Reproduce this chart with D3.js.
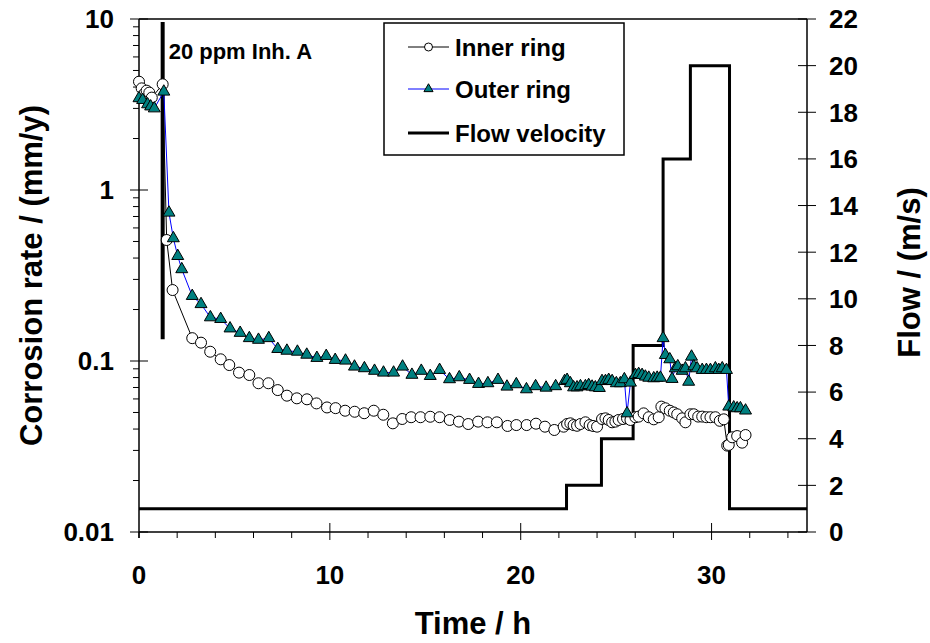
<!DOCTYPE html>
<html>
<head>
<meta charset="utf-8">
<script src="https://cdn.jsdelivr.net/npm/d3@7"></script>
<style>
    body { margin: 0; background: #fff; }
    svg text { font-family: "Liberation Sans", Arial, sans-serif; font-weight: bold; fill: #000; }
</style>
</head>
<body>
<svg id="chart" width="930" height="643"></svg>
<script>
// time (h) and corrosion rate (mm/y)
let innerTime = [0, 0.14, 0.27, 0.40, 0.54, 0.67, 1.24, 1.45, 1.76, 2.79, 3.25, 3.73, 4.28, 4.73, 5.24, 5.78, 6.26, 6.78,
    7.27, 7.75, 8.27, 8.80, 9.30, 9.85, 10.30, 10.80, 11.30, 11.80, 12.30, 12.80, 13.30, 13.79, 14.26, 14.75, 15.26,
    15.75, 16.28, 16.76, 17.25, 17.77, 18.26, 18.75, 19.31, 19.77, 20.31, 20.80, 21.27, 21.76,
    22.25, 22.43, 22.60, 22.77, 22.95, 23.13, 23.39, 23.61, 23.79, 24.00, 24.26, 24.44, 24.61, 24.79, 24.96, 25.13,
    25.36, 25.57, 25.75, 26.01, 26.18, 26.44, 26.71, 26.97, 27.23, 27.37, 27.58, 27.81, 28.02, 28.20, 28.46, 28.63,
    28.89, 29.07, 29.30, 29.51, 29.73, 29.94, 30.20, 30.43, 30.64, 30.82, 30.90, 31.08, 31.34, 31.60, 31.78];
let innerRate = [4.30, 3.93, 3.65, 3.81, 3.71, 3.47, 4.15, 0.510, 0.260, 0.136, 0.128, 0.1133, 0.1023, 0.0947, 0.0855,
    0.0828, 0.0741, 0.0741, 0.0676, 0.0627, 0.0605, 0.0597, 0.0565, 0.0535, 0.0530, 0.0512, 0.0505, 0.0495, 0.0512,
    0.0485, 0.0432, 0.0458, 0.0469, 0.0469, 0.0472, 0.0469, 0.0452, 0.0442, 0.0428, 0.0442, 0.0438, 0.0438, 0.0417,
    0.0422, 0.0422, 0.0430, 0.0413, 0.0395,
    0.0413, 0.0428, 0.0432, 0.0422, 0.0418, 0.0428, 0.0438, 0.0422, 0.0417, 0.0413, 0.0458, 0.0462, 0.0452, 0.0438,
    0.0442, 0.0452, 0.0458, 0.0462, 0.0452, 0.0469, 0.0473, 0.0494, 0.0469, 0.0456, 0.0469, 0.0541, 0.0529, 0.0512,
    0.0500, 0.0488, 0.0462, 0.0438, 0.0488, 0.0488, 0.0473, 0.0473, 0.0469, 0.0469, 0.0469, 0.0447, 0.0456, 0.0320,
    0.0323, 0.0358, 0.0364, 0.0333, 0.0369];

let outerTime = [0, 0.19, 0.45, 0.61, 0.80, 1.30, 1.57, 1.80, 2.03, 2.24, 2.79, 3.25, 3.74, 4.28, 4.77, 5.30, 5.78,
    6.26, 6.80, 7.27, 7.75, 8.30, 8.79, 9.32, 9.81, 10.28, 10.82, 11.29, 11.81, 12.34, 12.81, 13.34, 13.81, 14.30,
    14.79, 15.26, 15.75, 16.27, 16.78, 17.32, 17.79, 18.28, 18.81, 19.28, 19.77, 20.30, 20.78, 21.33, 21.83,
    22.30, 22.43, 22.60, 22.77, 22.95, 23.13, 23.39, 23.56, 23.74, 23.91, 24.12, 24.26, 24.44, 24.61, 24.79, 25.01,
    25.22, 25.43, 25.57, 25.75, 26.01, 26.18, 26.36, 26.53, 26.71, 26.97, 27.15, 27.32, 27.46, 27.58, 27.81, 27.93,
    28.10, 28.23, 28.46, 28.63, 28.80, 28.95, 29.07, 29.24, 29.51, 29.73, 29.94, 30.20, 30.38, 30.56, 30.78, 30.90,
    31.16, 31.34, 31.51, 31.78];
let outerRate = [3.44, 3.36, 3.17, 3.08, 3.00, 3.76, 0.737, 0.522, 0.411, 0.344, 0.240, 0.215, 0.180, 0.176, 0.155,
    0.146, 0.136, 0.133, 0.136, 0.1175, 0.1148, 0.1133, 0.1088, 0.1042, 0.107, 0.1014, 0.1005, 0.0927, 0.0907, 0.0876,
    0.0855, 0.0855, 0.0927, 0.0830, 0.0876, 0.0817, 0.0886, 0.0782, 0.0803, 0.0775, 0.0734, 0.0741, 0.0775, 0.0708,
    0.0731, 0.0683, 0.0712, 0.0698, 0.0712,
    0.0763, 0.0775, 0.0741, 0.0701, 0.0701, 0.0712, 0.0712, 0.0723, 0.0708, 0.0701, 0.0695, 0.0763, 0.0763, 0.0775,
    0.0763, 0.0741, 0.0741, 0.0782, 0.0494, 0.0747, 0.0828, 0.0839, 0.0828, 0.0810, 0.0798, 0.0792, 0.0798, 0.0798,
    0.136, 0.1084, 0.1023, 0.0785, 0.0906, 0.0931, 0.0876, 0.0906, 0.0756, 0.106, 0.0931, 0.0906, 0.0886, 0.0886,
    0.0886, 0.0906, 0.0886, 0.0906, 0.0886, 0.0541, 0.0535, 0.0529, 0.0529, 0.0513];

// flow velocity steps (m/s), each value holds until the next time
let flowTime = [0, 22.4, 24.23, 25.89, 27.46, 28.89, 30.94, 35];
let flowSpeed = [1, 2, 4, 8, 16, 20, 1, 1];

let inhibitorTime = 1.24;
let inhibitorRange = [0.134, 9.6];

let xTicks = [0, 10, 20, 30];
let xMinor = [2, 4, 6, 8, 12, 14, 16, 18, 22, 24, 26, 28, 32, 34];
let yTicks = [0.01, 0.1, 1, 10];
let yTickLabels = ['0.01', '0.1', '1', '10'];
let flowTicks = [0, 2, 4, 6, 8, 10, 12, 14, 16, 18, 20, 22];

let legendNames = ['Inner ring', 'Outer ring', 'Flow velocity'];

let margin = {top: 19, right: 123, bottom: 111, left: 139};
let width = 930 - margin.left - margin.right;
let height = 643 - margin.top - margin.bottom;
let teal = '#008080';

let svg = d3.select('#chart');
let graph = svg.append('g').attr('transform', 'translate(' + margin.left + ',' + margin.top + ')');

let xScale = d3.scaleLinear().domain([0, 35]).range([0, width]);
let yScale = d3.scaleLog().domain([0.01, 10]).range([height, 0]);
let flowScale = d3.scaleLinear().domain([0, 22]).range([height, 0]);

// minor log ticks
let yMinor = [];
[0.01, 0.1, 1].forEach(d => { for (let k = 2; k <= 9; k++) yMinor.push(d * k); });

// ---- axes ----
graph.append('line')
    .attr('x1', 0).attr('x2', width).attr('y1', 0).attr('y2', 0)
    .attr('stroke', '#000').attr('stroke-width', 1.5);

let xAxis = graph.append('g').attr('transform', 'translate(0,' + height + ')');
xAxis.append('line').attr('x1', 0).attr('x2', width).attr('stroke', '#000').attr('stroke-width', 1.5);
xAxis.selectAll('line.minor').data(xMinor).enter().append('line')
    .attr('class', 'minor')
    .attr('x1', d => xScale(d)).attr('x2', d => xScale(d))
    .attr('y1', 0).attr('y2', 6)
    .attr('stroke', '#000').attr('stroke-width', 1);
xAxis.selectAll('line.major').data(xTicks).enter().append('line')
    .attr('class', 'major')
    .attr('x1', d => xScale(d)).attr('x2', d => xScale(d))
    .attr('y1', d => d === 0 ? 0 : -9).attr('y2', d => d === 0 ? 6 : 8)
    .attr('stroke', '#000').attr('stroke-width', 1);
xAxis.selectAll('text').data(xTicks).enter().append('text')
    .attr('x', d => xScale(d)).attr('y', 52)
    .attr('text-anchor', 'middle')
    .style('font-size', '26px')
    .text(d => d);

let yAxis = graph.append('g');
yAxis.append('line').attr('y1', 0).attr('y2', height + 6).attr('stroke', '#000').attr('stroke-width', 1.5);
yAxis.selectAll('line.minor').data(yMinor).enter().append('line')
    .attr('class', 'minor')
    .attr('y1', d => yScale(d)).attr('y2', d => yScale(d))
    .attr('x1', -6).attr('x2', 0)
    .attr('stroke', '#000').attr('stroke-width', 1);
yAxis.selectAll('line.major').data(yTicks).enter().append('line')
    .attr('class', 'major')
    .attr('y1', d => yScale(d)).attr('y2', d => yScale(d))
    .attr('x1', -9).attr('x2', 9)
    .attr('stroke', '#000').attr('stroke-width', 1);
yAxis.selectAll('text').data(yTicks).enter().append('text')
    .attr('x', -25).attr('y', d => yScale(d))
    .attr('dy', '0.36em')
    .attr('text-anchor', 'end')
    .style('font-size', '26px')
    .text((d, i) => yTickLabels[i]);

let rAxis = graph.append('g').attr('transform', 'translate(' + width + ',0)');
rAxis.append('line').attr('y1', 0).attr('y2', height).attr('stroke', '#000').attr('stroke-width', 1.5);
rAxis.selectAll('line.major').data(flowTicks).enter().append('line')
    .attr('y1', d => flowScale(d)).attr('y2', d => flowScale(d))
    .attr('x1', -9).attr('x2', 9)
    .attr('stroke', '#000').attr('stroke-width', 1);
rAxis.selectAll('text').data(flowTicks).enter().append('text')
    .attr('x', 22).attr('y', d => flowScale(d))
    .attr('dy', '0.36em')
    .style('font-size', '26px')
    .text(d => d);

// axis titles
svg.append('text')
    .attr('x', margin.left + width / 2).attr('y', 634)
    .attr('text-anchor', 'middle')
    .style('font-size', '31px')
    .text('Time / h');
svg.append('text')
    .attr('transform', 'translate(42,' + (margin.top + height / 2) + ') rotate(-90)')
    .attr('text-anchor', 'middle')
    .style('font-size', '31px')
    .text('Corrosion rate / (mm/y)');
svg.append('text')
    .attr('transform', 'translate(920,' + (margin.top + height / 2 - 3) + ') rotate(-90)')
    .attr('text-anchor', 'middle')
    .style('font-size', '31px')
    .text('Flow / (m/s)');

// ---- flow velocity ----
let flowData = flowTime.map((t, i) => ({t: t, v: flowSpeed[i]}));
let flowLine = d3.line()
    .x(d => xScale(d.t))
    .y(d => flowScale(d.v))
    .curve(d3.curveStepAfter);
graph.append('path')
    .datum(flowData)
    .attr('d', flowLine)
    .attr('fill', 'none')
    .attr('stroke', '#000')
    .attr('stroke-width', 3)
    .attr('stroke-linejoin', 'miter');

// inhibitor injection marker
graph.append('line')
    .attr('x1', xScale(inhibitorTime)).attr('x2', xScale(inhibitorTime))
    .attr('y1', yScale(inhibitorRange[0])).attr('y2', yScale(inhibitorRange[1]))
    .attr('stroke', '#000').attr('stroke-width', 4);
graph.append('text')
    .attr('x', xScale(inhibitorTime) + 6).attr('y', 40)
    .style('font-size', '22px')
    .text('20 ppm Inh. A');

// ---- corrosion rate series ----
let innerData = innerTime.map((t, i) => ({t: t, v: innerRate[i]}));
let outerData = outerTime.map((t, i) => ({t: t, v: outerRate[i]}));
let rateLine = d3.line()
    .x(d => xScale(d.t))
    .y(d => yScale(d.v));

graph.append('path')
    .datum(innerData)
    .attr('d', rateLine)
    .attr('fill', 'none')
    .attr('stroke', '#000')
    .attr('stroke-width', 1);
graph.append('path')
    .datum(outerData)
    .attr('d', rateLine)
    .attr('fill', 'none')
    .attr('stroke', '#0000ff')
    .attr('stroke-width', 1);

graph.append('g').selectAll('circle')
    .data(innerData).enter().append('circle')
    .attr('cx', d => xScale(d.t))
    .attr('cy', d => yScale(d.v))
    .attr('r', 5.5)
    .attr('fill', '#fff')
    .attr('stroke', '#000')
    .attr('stroke-width', 1);

let tri = d3.symbol().type(d3.symbolTriangle).size(62);
graph.append('g').selectAll('path')
    .data(outerData).enter().append('path')
    .attr('d', tri)
    .attr('transform', d => 'translate(' + xScale(d.t) + ',' + yScale(d.v) + ')')
    .attr('fill', teal)
    .attr('stroke', '#000')
    .attr('stroke-width', 1);

// ---- legend ----
let legend = svg.append('g').attr('transform', 'translate(384,23)');
legend.append('rect')
    .attr('width', 240).attr('height', 132)
    .attr('fill', '#fff')
    .attr('stroke', '#000')
    .attr('stroke-width', 1.5);
let rows = legend.selectAll('g.row')
    .data(legendNames).enter().append('g')
    .attr('class', 'row')
    .attr('transform', (d, i) => 'translate(0,' + [24, 66, 110][i] + ')');
rows.append('line')
    .attr('x1', 24).attr('x2', 65)
    .attr('stroke', (d, i) => ['#000', '#0000ff', '#000'][i])
    .attr('stroke-width', (d, i) => i === 2 ? 3 : 1);
rows.filter((d, i) => i === 0).append('circle')
    .attr('cx', 44.5).attr('r', 4)
    .attr('fill', '#fff').attr('stroke', '#000');
rows.filter((d, i) => i === 1).append('path')
    .attr('d', d3.symbol().type(d3.symbolTriangle).size(36))
    .attr('transform', 'translate(44.5,0)')
    .attr('fill', teal).attr('stroke', '#000');
rows.append('text')
    .attr('x', 71).attr('dy', '0.36em')
    .style('font-size', '24px')
    .text(d => d);
</script>
</body>
</html>
